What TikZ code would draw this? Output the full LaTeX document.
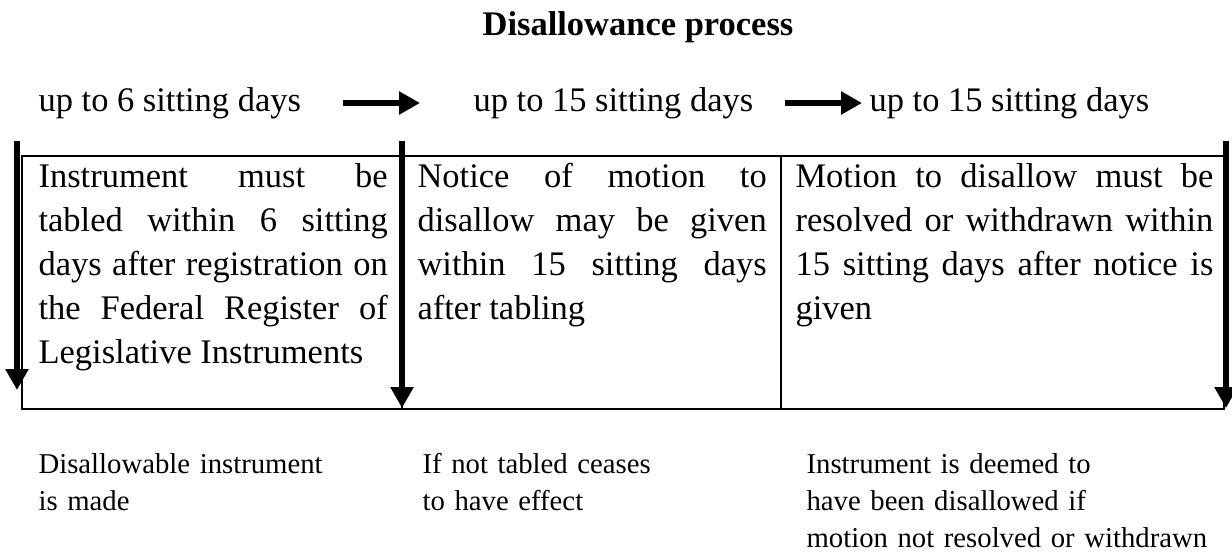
\documentclass[tikz,border=0pt]{standalone}
\usepackage{fontspec}
\setmainfont{Liberation Serif}
\usetikzlibrary{arrows.meta}
\hyphenpenalty=10000
\tikzset{
    cell/.style={anchor=base west, inner sep=0pt, align=justify,
        font=\fontsize{12}{15.25}\selectfont},
    period/.style={anchor=base west, inner sep=0pt, font=\fontsize{12}{15.25}\selectfont},
    outcome/.style={anchor=base west, inner sep=0pt, align=left, text width=150pt,
        font=\fontsize{10}{12.9}\selectfont},
    timeline/.style={line width=2.3pt, -{Triangle[width=7.7pt,length=7.3pt]}},
}
\begin{document}
\begin{tikzpicture}[x=0.348pt, y=-0.348pt]
    \useasboundingbox (0,0) rectangle (1232,552);
    \node[font=\fontsize{12}{14}\selectfont\bfseries, anchor=base] (title) at (638,36) {Disallowance process};
    % periods along the top
    \node[period] (tableP) at (38,112) {up to 6 sitting days};
    \node[period] (noticeP) at (473,112) {up to 15 sitting days};
    \node[period] (motionP) at (869,112) {up to 15 sitting days};
    \coordinate (a1) at (343,103);
    \coordinate (a2) at (420,103);
    \coordinate (b1) at (785,103);
    \coordinate (b2) at (862,103);
    \draw[timeline] (a1) -- (a2);
    \draw[timeline] (b1) -- (b2);
    % the table
    \draw[line width=0.45pt] (22,156) rectangle (1224,409);
    \draw[line width=0.45pt] (402,156) -- (402,409);
    \draw[line width=0.45pt] (781,156) -- (781,409);
    \node[cell, text width=121.5pt] (tableC) at (38,188) {Instrument must be tabled within 6 sitting days after registration on the Federal Register of Legislative Instruments};
    \node[cell, text width=121.5pt] (noticeC) at (417,188) {Notice of motion to disallow may be given within 15 sitting days after tabling};
    \node[cell, text width=145.4pt] (motionC) at (795,188) {Motion to disallow must be resolved or withdrawn within 15 sitting days after notice is given};
    % downward arrows
    \coordinate (d1) at (17,141);
    \coordinate (e1) at (17,390);
    \coordinate (d2) at (402,141);
    \coordinate (e2) at (402,408);
    \coordinate (d3) at (1226,141);
    \coordinate (e3) at (1226,408);
    \draw[timeline] (d1) -- (e1);
    \draw[timeline] (d2) -- (e2);
    \draw[timeline] (d3) -- (e3);
    % what happens at each point
    \node[outcome] (madeO) at (38,473) {Disallowable instrument\\is made};
    \node[outcome] (ceaseO) at (422,473) {If not tabled ceases\\to have effect};
    \node[outcome] (deemedO) at (806,473) {Instrument is deemed to\\have been disallowed if\\motion not resolved or withdrawn};
\end{tikzpicture}
\end{document}
